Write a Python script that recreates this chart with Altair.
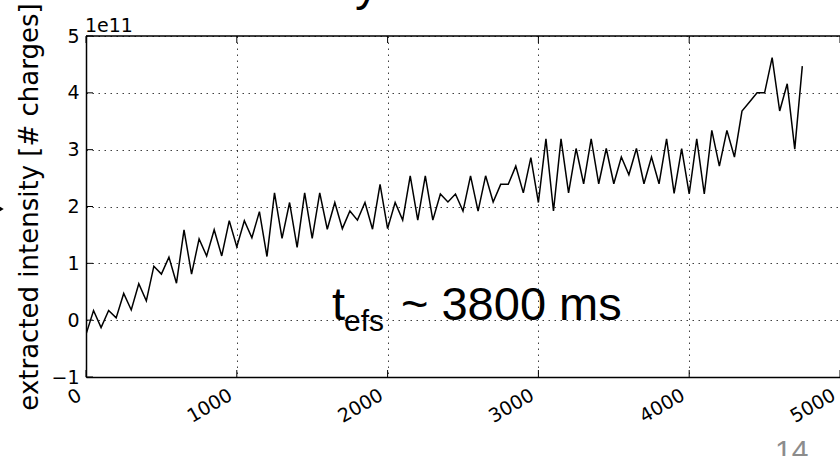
import altair as alt
import pandas as pd

# ---- data ----
time_ms = [0, 50, 100, 150, 200, 250, 300, 350, 400, 450,
           500, 550, 600, 650, 700, 750, 800, 850, 900, 950,
           1000, 1050, 1100, 1150, 1200, 1250, 1300, 1350, 1400, 1450,
           1500, 1550, 1600, 1650, 1700, 1750, 1800, 1850, 1900, 1950,
           2000, 2050, 2100, 2150, 2200, 2250, 2300, 2350, 2400, 2450,
           2500, 2550, 2600, 2650, 2700, 2750, 2800, 2850, 2900, 2950,
           3000, 3050, 3100, 3150, 3200, 3250, 3300, 3350, 3400, 3450,
           3500, 3550, 3600, 3650, 3700, 3750, 3800, 3850, 3900, 3950,
           4000, 4050, 4100, 4150, 4200, 4250, 4300, 4350, 4400, 4450,
           4500, 4550, 4600, 4650, 4700, 4750]
intensity_1e11 = [-0.25, 0.17, -0.13, 0.17, 0.04, 0.47, 0.18, 0.64, 0.34, 0.95,
                  0.81, 1.11, 0.65, 1.59, 0.81, 1.43, 1.13, 1.59, 1.13, 1.75,
                  1.29, 1.75, 1.45, 1.91, 1.12, 2.24, 1.44, 2.07, 1.28, 2.24,
                  1.44, 2.24, 1.60, 2.07, 1.61, 1.92, 1.76, 2.07, 1.60, 2.39,
                  1.61, 2.07, 1.76, 2.54, 1.76, 2.54, 1.76, 2.22, 2.08, 2.22,
                  1.92, 2.54, 1.92, 2.54, 2.08, 2.39, 2.39, 2.71, 2.24, 2.86,
                  2.07, 3.19, 1.92, 3.19, 2.24, 3.02, 2.40, 3.19, 2.40, 3.02,
                  2.40, 2.87, 2.56, 3.02, 2.40, 2.87, 2.40, 3.19, 2.23, 3.02,
                  2.22, 3.19, 2.22, 3.34, 2.71, 3.34, 2.87, 3.68, 3.84, 4.00,
                  4.00, 4.62, 3.68, 4.16, 3.01, 4.47]
x_ticks = [0, 1000, 2000, 3000, 4000, 5000]
x_tick_labels = ["0", "1000", "2000", "3000", "4000", "5000"]
y_ticks = [-1, 0, 1, 2, 3, 4, 5]

x_title = "time from start slow extraction [ms]"
y_title = "extracted intensity [# charges]"
exponent_label = "1e11"
annot_pos = {"t": [1631], "v": [0]}

W, H = 754, 341
FONT = "DejaVu Sans"
LBL = 19

df = pd.DataFrame({"t": time_ms, "v": intensity_1e11})
xs = alt.Scale(domain=[0, 5000], nice=False, zero=False)
ys = alt.Scale(domain=[-1, 5], nice=False, zero=False)

x_axis = alt.Axis(
    values=x_ticks, title=x_title, labels=False,
    ticks=False, domainColor="black", domainWidth=1.5,
    grid=True, gridColor="black", gridDash=[1.5, 4.5], gridOpacity=0.75, gridWidth=1,
    titleFont=FONT, titleFontSize=26, titleColor="black", titleFontWeight="normal",
    titleY=414, titleBaseline="alphabetic",
)
y_axis = alt.Axis(
    values=y_ticks, title=y_title,
    labelExpr="datum.value < 0 ? '\u2212' + format(-datum.value, 'd') : format(datum.value, 'd')",
    labelPadding=7, labelOverlap=False, labelFlush=False, labelBaseline="middle",
    ticks=False, domainColor="black", domainWidth=1.5,
    grid=True, gridColor="black", gridDash=[1.5, 4.5], gridOpacity=0.75, gridWidth=1,
    labelFont=FONT, labelFontSize=LBL, labelColor="black",
    titleFont=FONT, titleFontSize=26, titleColor="black", titleFontWeight="normal",
    titleAngle=270, titleX=-49, titleY=H / 2, titleAlign="center", titleBaseline="alphabetic",
)


def X(field):
    return alt.X(f"{field}:Q", scale=xs, axis=x_axis)


def Y(field):
    return alt.Y(f"{field}:Q", scale=ys, axis=y_axis)


line = alt.Chart(df).mark_line(color="black", strokeWidth=1.5, clip=True).encode(
    x=X("t"), y=Y("v")
)

# frame top line
top = alt.Chart(pd.DataFrame({"a": [0]})).mark_rule(color="black", strokeWidth=1.5).encode(
    x=alt.value(0), x2=alt.value(W), y=alt.value(0)
)

xt_df = pd.DataFrame({"t": x_ticks, "lab": x_tick_labels})
yt_df = pd.DataFrame({"v": y_ticks})
xt_bottom = alt.Chart(xt_df).mark_rule(color="black", strokeWidth=1).encode(
    x=X("t"), y=alt.value(H), y2=alt.value(H - 7)
)
xt_top = alt.Chart(xt_df).mark_rule(color="black", strokeWidth=1).encode(
    x=X("t"), y=alt.value(0), y2=alt.value(7)
)
yt_left = alt.Chart(yt_df).mark_rule(color="black", strokeWidth=1).encode(
    y=Y("v"), x=alt.value(0), x2=alt.value(7)
)
# rotated x tick labels (matplotlib style, right-aligned at the tick)
xt_labels = alt.Chart(xt_df).mark_text(
    angle=330, align="right", baseline="top", fontSize=LBL, font=FONT, color="black",
    dx=-13.6, dy=2.5
).encode(x=X("t"), y=alt.value(H), text="lab:N")

expo = alt.Chart(pd.DataFrame({"s": [exponent_label]})).mark_text(
    align="left", baseline="alphabetic", fontSize=LBL, font=FONT, color="black"
).encode(x=alt.value(-1), y=alt.value(-4), text="s:N")

ann_df = pd.DataFrame(annot_pos)
ann_t = alt.Chart(ann_df).mark_text(
    text="t", align="left", baseline="alphabetic", font="Liberation Sans",
    fontSize=47, color="black"
).encode(x=X("t"), y=Y("v"))
ann_sub = alt.Chart(ann_df).mark_text(
    text="efs", align="left", baseline="alphabetic", font="Liberation Sans",
    fontSize=30, color="black", dx=12, dy=11
).encode(x=X("t"), y=Y("v"))
ann_rest = alt.Chart(ann_df).mark_text(
    text="~ 3800 ms", align="left", baseline="alphabetic", font="Liberation Sans",
    fontSize=47, color="black", dx=69
).encode(x=X("t"), y=Y("v"))

# slide decorations partly cut off
slide_title = alt.Chart(pd.DataFrame({"s": ["y"]})).mark_text(
    align="center", baseline="alphabetic", font="Liberation Sans", fontSize=48, color="black"
).encode(x=alt.value(281), y=alt.value(-36), text="s:N")
slide_num = alt.Chart(pd.DataFrame({"s": ["14"]})).mark_text(
    align="left", baseline="alphabetic", font="Liberation Sans", fontSize=30, color="#8c8c8c"
).encode(x=alt.value(689), y=alt.value(425), text="s:N")
arrow = alt.Chart(pd.DataFrame({"a": [0]})).mark_point(
    shape="triangle-right", filled=True, color="black", size=120, opacity=1
).encode(x=alt.value(-87), y=alt.value(173))

chart = alt.layer(
    line, top, xt_bottom, xt_top, yt_left, xt_labels, expo, ann_t, ann_sub, ann_rest,
    slide_title, slide_num, arrow
).properties(
    width=W, height=H,
    padding={"left": 86, "top": 36, "right": 0, "bottom": 79},
    autosize=alt.AutoSizeParams(type="none"),
    background="white",
).configure_view(stroke=None)

chart.save("out.html", embed_options={"renderer": "svg", "actions": False})
